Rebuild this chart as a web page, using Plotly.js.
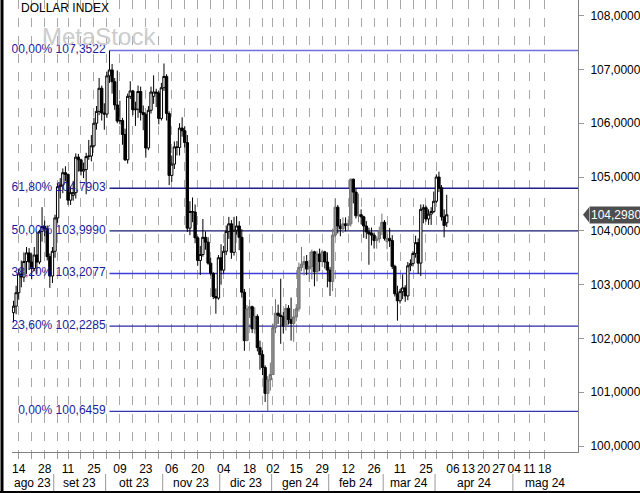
<!DOCTYPE html>
<html><head><meta charset="utf-8">
<script src="https://cdn.plot.ly/plotly-3.0.1.min.js"></script>
<style>html,body{margin:0;padding:0;background:#fff;} #chart{width:640px;height:493px;}</style>
</head><body><div id="chart"></div><script>
// ---- data ----
const firstDate = '2023-08-10', lastDate = '2024-04-05';
const holidays = ['2023-09-04', '2023-12-25', '2024-01-01', '2024-03-29'];

const opens = [
102.48,102.60,102.85,103.20,103.14,103.43,103.59,103.42,103.30,103.55,
103.42,103.99,104.08,104.04,103.52,103.16,103.62,104.24,104.82,104.85,
105.08,105.05,104.57,104.66,104.71,105.37,105.32,105.11,105.14,105.38,
105.39,105.58,106.00,106.22,106.65,106.19,106.17,106.88,106.99,106.77,
106.34,106.04,106.05,105.79,105.32,106.50,106.60,106.25,106.26,106.59,
106.20,106.16,105.54,106.24,106.50,106.58,106.56,106.09,106.66,106.87,
106.18,105.03,105.24,105.56,105.55,105.91,105.86,105.64,104.05,104.36,
104.35,103.87,103.45,103.56,103.88,103.79,103.40,103.21,102.78,102.75,
103.50,103.27,103.62,103.99,104.13,103.60,104.01,104.09,103.88,102.86,
101.96,102.55,102.59,102.18,102.41,101.83,101.70,101.46,100.98,101.23,
101.33,102.20,102.47,102.43,102.41,102.23,102.56,102.35,102.28,102.40,
102.55,103.32,103.38,103.43,103.29,103.34,103.61,103.24,103.57,103.43,
103.61,103.42,103.27,103.06,103.92,104.44,104.09,104.04,104.13,104.10,
104.13,104.96,104.72,104.28,104.30,104.26,104.09,103.98,103.96,103.92,
103.82,103.85,104.00,104.16,103.80,103.86,103.82,103.34,102.83,102.70,
102.87,102.94,102.79,103.35,103.39,103.58,103.78,103.40,104.40,104.43,
104.22,104.31,104.36,104.55,105.00,104.80,104.26,104.15];
const highs = [
102.70,102.98,103.30,103.45,103.60,103.70,103.68,103.58,103.70,103.98,
104.02,104.44,104.19,104.10,103.58,103.70,104.30,104.88,104.98,105.16,
105.20,105.06,104.82,104.93,105.44,105.43,105.34,105.27,105.45,105.69,
105.78,106.10,106.32,106.84,106.70,106.37,106.96,107.35,107.10,106.84,
106.98,106.42,106.10,105.90,106.55,106.78,106.62,106.40,106.70,106.68,
106.33,106.20,106.32,106.68,106.89,106.64,106.60,106.75,107.11,106.91,
106.22,105.40,105.66,105.67,106.00,106.11,105.94,105.78,104.55,104.62,
104.49,103.90,103.72,104.22,103.99,103.88,103.50,103.23,102.93,103.55,
103.75,103.72,104.10,104.26,104.20,104.26,104.27,104.18,104.03,102.92,
102.62,102.72,102.61,102.58,102.45,101.96,101.78,101.50,101.30,101.55,
102.28,102.73,102.63,103.11,102.49,102.64,102.62,102.76,102.55,102.64,
103.41,103.70,103.53,103.55,103.46,103.65,103.63,103.63,103.67,103.65,
103.63,103.60,103.33,104.04,104.60,104.48,104.22,104.25,104.25,104.21,
104.97,104.97,104.79,104.69,104.40,104.28,104.18,104.06,104.06,103.97,
103.90,104.08,104.32,104.20,103.98,104.05,103.92,103.37,102.98,102.92,
103.19,102.99,103.42,103.47,103.62,103.91,103.86,104.49,104.49,104.47,
104.40,104.44,104.73,105.05,105.10,104.85,104.40,104.67];
const lows = [
102.30,102.45,102.72,102.95,103.05,103.20,103.27,103.10,103.25,103.20,
103.38,103.80,103.90,103.45,102.94,103.03,103.50,104.15,104.60,104.70,
104.92,104.48,104.48,104.56,104.60,105.10,105.03,104.98,104.68,105.32,
105.29,105.55,105.88,106.15,106.05,105.88,106.10,106.75,106.55,106.25,
106.00,105.98,105.60,105.30,105.25,106.45,106.15,105.95,106.10,106.05,
105.87,105.36,105.50,106.18,106.36,106.30,105.98,106.05,106.60,106.05,
104.85,104.91,105.15,105.40,105.40,105.75,105.55,103.98,103.92,104.16,
103.77,103.35,103.18,103.52,103.65,103.37,103.17,102.73,102.46,102.72,
103.00,103.20,103.55,103.85,103.48,103.54,103.93,103.64,102.76,101.77,
101.95,102.38,102.10,102.09,101.76,101.42,101.32,100.82,100.65,101.03,
101.33,102.10,102.27,101.90,102.09,102.15,102.26,101.96,101.94,102.32,
102.50,103.25,103.17,103.18,103.05,103.10,102.97,103.06,103.25,103.33,
103.30,102.95,102.79,102.88,103.88,103.95,103.90,103.96,103.99,104.00,
104.08,104.51,104.23,104.16,104.12,103.87,103.85,103.37,103.73,103.67,
103.67,103.78,103.92,103.82,103.66,103.70,103.29,102.78,102.33,102.65,
102.73,102.68,102.71,103.25,103.34,103.50,103.20,103.16,104.14,104.17,
104.11,104.11,104.33,104.52,104.72,104.19,103.88,104.07];
const closes = [
102.60,102.85,103.20,103.14,103.43,103.59,103.42,103.30,103.55,103.42,
103.99,104.08,104.04,103.52,103.16,103.62,104.24,104.82,104.85,105.08,
105.05,104.57,104.71,104.71,105.37,105.32,105.11,105.14,105.38,105.39,
105.58,106.00,106.22,106.65,106.19,106.17,106.88,106.99,106.77,106.34,
106.04,106.05,105.79,105.32,106.50,106.60,106.25,106.26,106.59,106.20,
106.16,105.54,106.24,106.58,106.58,106.56,106.09,106.66,106.87,106.18,
105.03,105.24,105.56,105.55,105.91,105.86,105.64,104.05,104.36,104.35,
103.87,103.45,103.56,103.88,103.79,103.40,103.21,102.78,102.75,103.50,
103.27,103.62,103.99,104.13,103.60,104.01,104.09,103.88,102.86,101.96,
102.55,102.59,102.18,102.41,101.83,101.70,101.46,100.98,101.23,101.33,
102.20,102.47,102.43,102.41,102.23,102.56,102.35,102.28,102.40,102.55,
103.32,103.38,103.43,103.29,103.34,103.61,103.24,103.57,103.43,103.61,
103.42,103.27,103.06,103.92,104.44,104.09,104.04,104.13,104.10,104.13,
104.96,104.72,104.28,104.30,104.26,104.09,103.98,103.94,103.92,103.82,
103.85,104.00,104.16,103.86,103.86,103.82,103.34,102.83,102.70,102.87,
102.94,102.79,103.35,103.39,103.58,103.78,103.40,104.40,104.43,104.22,
104.31,104.36,104.55,105.00,104.80,104.26,104.10,104.298];

// Fibonacci retracement (drawn from the 3 Oct 2023 high to the 28 Dec 2023 low)
const fibStartDate = '2023-10-03';
const fibLevels = [107.3522, 104.7903, 103.9990, 103.2077, 102.2285, 100.6459];
const fibTexts = ['100,00% 107,3522', '61,80% 104,7903', '50,00% 103,9990', '38,20% 103,2077', '23,60% 102,2285', '0,00% 100,6459'];
const fibColors = ['#7070dc', '#1e1e8c', '#16166e', '#3c3cdc', '#2a2aa4', '#3434b0'];

// x ticks
const pastTickDates = ['2023-08-14','2023-08-21','2023-08-28','2023-09-05','2023-09-11','2023-09-18','2023-09-25','2023-10-02','2023-10-09','2023-10-16','2023-10-23','2023-10-30','2023-11-06','2023-11-13','2023-11-20','2023-11-27','2023-12-04','2023-12-11','2023-12-18','2023-12-26','2024-01-02','2024-01-08','2024-01-15','2024-01-22','2024-01-29','2024-02-05','2024-02-12','2024-02-19','2024-02-26','2024-03-04','2024-03-11','2024-03-18','2024-03-25','2024-04-01'];
const pastTickLabels = ['14','','28','','11','','25','','09','','23','','06','','20','','04','','18','','02','','15','','29','','12','','26','','11','','25',''];
const futureTickDates = ['2024-04-06','2024-04-13','2024-04-20','2024-04-27','2024-05-04','2024-05-11','2024-05-18'];
const futureTickLabels = ['06','13','20','27','04','11','18'];
const monthKeys = ['2023-08','2023-09','2023-10','2023-11','2023-12','2024-01','2024-02','2024-03','2024-04','2024-05'];
const monthLabels = ['ago 23','set 23','ott 23','nov 23','dic 23','gen 24','feb 24','mar 24','apr 24','mag 24'];

// ---- build ----
function buildDates() {
  const out = [];
  const d = new Date(firstDate + 'T00:00:00Z');
  const end = new Date(lastDate + 'T00:00:00Z');
  while (d <= end) {
    const wd = d.getUTCDay();
    const s = d.toISOString().slice(0, 10);
    if (wd !== 0 && wd !== 6 && !holidays.includes(s)) out.push(s);
    d.setUTCDate(d.getUTCDate() + 1);
  }
  return out;
}
const dates = buildDates();
const xs = dates.map((_, i) => i);
const lastIdx = xs.length - 1;

const W = 640, H = 493, ML = 12, MR = 62, MT = 0, MB = 41;
const plotW = W - ML - MR, plotH = H - MT - MB;
const pxPerDay = 2.594;
const xMin = -0.59;
const xRange = [xMin, xMin + plotW / pxPerDay];
const yRange = [99.89, 108.29];
const futureStart = lastIdx + 2.4, futureStep = 5.9;

const posOf = {};
dates.forEach((d, i) => posOf[d] = i);
futureTickDates.forEach((d, k) => posOf[d] = futureStart + futureStep * k);

const tickvals = pastTickDates.map(d => posOf[d]).concat(futureTickDates.map(d => posOf[d]));
const ticktext = pastTickLabels.concat(futureTickLabels);

const FONT = 'Liberation Sans, Arial, sans-serif';

// candle segments (gray-coloured section in the middle)
const graySeg = [89, 146];
function pick(arr, inGray) { return arr.filter((_, i) => (i >= graySeg[0] && i <= graySeg[1]) === inGray); }
function candle(inGray) {
  return {
    type: 'candlestick',
    x: pick(xs, inGray), open: pick(opens, inGray), high: pick(highs, inGray),
    low: pick(lows, inGray), close: pick(closes, inGray),
    increasing: inGray ? {line: {color: '#707070', width: 1}, fillcolor: '#909090'}
                       : {line: {color: '#000000', width: 1}, fillcolor: '#ffffff'},
    decreasing: {line: {color: '#000000', width: 1}, fillcolor: '#000000'},
    whiskerwidth: 0, hoverinfo: 'skip', showlegend: false
  };
}

const fibStart = posOf[fibStartDate];
const fibTextTrace = {
  type: 'scatter', mode: 'text',
  x: fibLevels.map(() => fibStart - 1.5), y: fibLevels, text: fibTexts,
  textposition: 'middle left', cliponaxis: true,
  textfont: {family: FONT, size: 12, color: '#1c1c9c'},
  hoverinfo: 'skip', showlegend: false
};

const traces = [fibTextTrace, candle(false), candle(true)];

const shapes = [];
fibLevels.forEach((lv, i) => shapes.push({
  type: 'line', xref: 'x', yref: 'y', x0: fibStart, x1: xRange[1], y0: lv, y1: lv,
  line: {color: fibColors[i], width: 1.4}, layer: 'between'
}));

// month spans
const allDates = dates.concat(futureTickDates);
const monthStart = monthKeys.map((k, i) => {
  if (i === 0) return xRange[0];
  const first = allDates.find(d => d.startsWith(k));
  return posOf[first] - 0.5;
});
const annotations = [];
const pyPaper = px => (plotH - (px - MT)) / plotH; // pixel y -> paper y
monthKeys.forEach((k, i) => {
  const a = monthStart[i];
  const b = i < monthKeys.length - 1 ? monthStart[i + 1] : xRange[1];
  annotations.push({xref: 'x', yref: 'paper', x: (a + b) / 2, y: pyPaper(483), text: monthLabels[i],
    showarrow: false, xanchor: 'center', yanchor: 'middle', font: {family: FONT, size: 12, color: '#000'}});
  if (i > 0) shapes.push({type: 'line', xref: 'x', yref: 'paper', x0: a, x1: a, y0: pyPaper(493), y1: pyPaper(474),
    line: {color: '#9a9a9a', width: 1}});
});

// borders
const pxPaper = px => (px - ML) / plotW;
shapes.push({type: 'line', xref: 'paper', yref: 'paper', x0: pxPaper(2), x1: pxPaper(2), y0: pyPaper(493), y1: 1,
  line: {color: '#000', width: 3}});
shapes.push({type: 'line', xref: 'paper', yref: 'paper', x0: pxPaper(0), x1: pxPaper(640), y0: pyPaper(492), y1: pyPaper(492),
  line: {color: '#000', width: 2}});

// last price marker
const lastClose = closes[lastIdx];
const dyUnit = (yRange[1] - yRange[0]) / plotH;
shapes.push({type: 'path', xref: 'paper', yref: 'y',
  path: `M ${pxPaper(583)} ${lastClose} L ${pxPaper(589)} ${lastClose + 7.5 * dyUnit} L ${pxPaper(589)} ${lastClose - 7.5 * dyUnit} Z`,
  fillcolor: '#4e4e4e', line: {width: 0}});
annotations.push({xref: 'paper', yref: 'y', x: pxPaper(588.5), y: lastClose, xanchor: 'left', yanchor: 'middle',
  text: lastClose.toFixed(4).replace('.', ','), showarrow: false, bgcolor: '#4e4e4e', borderpad: 1,
  font: {family: FONT, size: 12, color: '#ffffff'}});

// title & watermark
annotations.push({xref: 'paper', yref: 'paper', x: pxPaper(19), y: pyPaper(8), xanchor: 'left', yanchor: 'middle',
  text: 'DOLLAR INDEX', showarrow: false, font: {family: FONT, size: 12, color: '#000'}});
annotations.push({xref: 'paper', yref: 'paper', x: pxPaper(40), y: pyPaper(36), xanchor: 'left', yanchor: 'middle',
  text: 'MetaStock', showarrow: false, font: {family: FONT, size: 24, color: '#cccccc'}});

const layout = {
  width: W, height: H, margin: {l: ML, r: MR, t: MT, b: MB, pad: 0},
  paper_bgcolor: '#ffffff', plot_bgcolor: '#ffffff',
  separators: ',.', showlegend: false, dragmode: false,
  boxgap: 0.1, boxgroupgap: 0,
  font: {family: FONT, size: 12, color: '#000'},
  xaxis: {
    type: 'linear', range: xRange, tickmode: 'array', tickvals: tickvals, ticktext: ticktext,
    tickangle: 0, ticks: 'outside', ticklen: 6, tickcolor: '#999999', tickwidth: 1,
    showgrid: true, gridcolor: '#a8a8a8', griddash: 'dash', gridwidth: 1,
    showline: true, linecolor: '#808080', linewidth: 1, zeroline: false,
    rangeslider: {visible: false}, fixedrange: true,
    tickfont: {family: FONT, size: 12, color: '#000'}
  },
  yaxis: {
    side: 'right', range: yRange, tickmode: 'array', tickvals: [100,101,102,103,104,105,106,107,108],
    tickformat: '.4f', ticks: 'outside', ticklen: 5, tickcolor: '#999999',
    showgrid: false, showline: true, linecolor: '#808080', linewidth: 1, zeroline: false,
    ticklabelstandoff: 4, fixedrange: true,
    tickfont: {family: FONT, size: 12, color: '#000'}
  },
  shapes: shapes, annotations: annotations
};

Plotly.newPlot('chart', traces, layout, {staticPlot: true, displayModeBar: false});
</script></body></html>
